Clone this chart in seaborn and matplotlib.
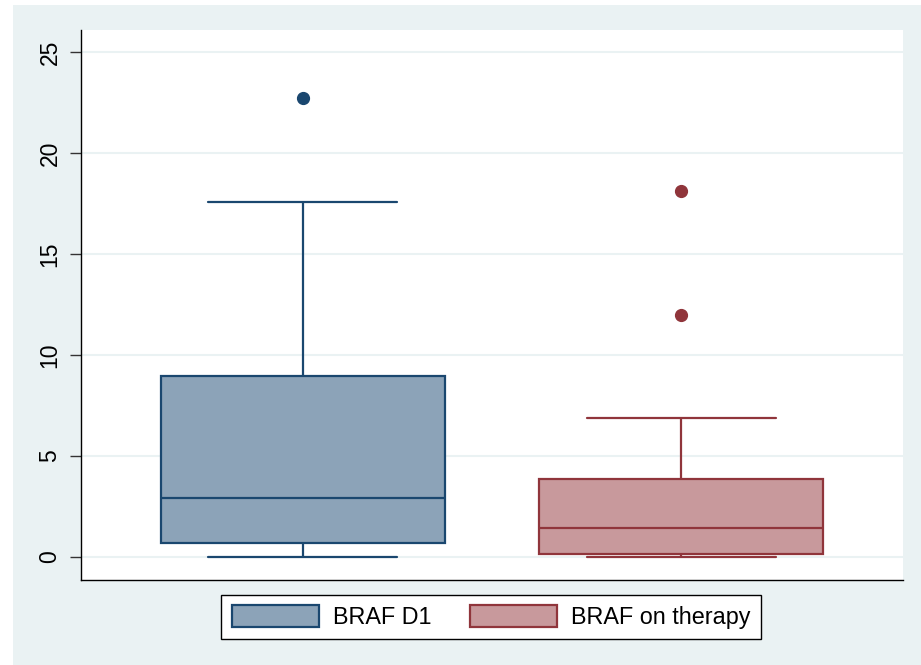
import numpy as np
import pandas as pd
import matplotlib.pyplot as plt
import seaborn as sns
from matplotlib.patches import Patch, Rectangle

# groups and values (filler points sit between the quartiles)
groups = ['BRAF D1', 'BRAF on therapy']
braf_d1 = [0.0, 0.3, 0.5, 0.71, 1.5, 2.2, 2.94, 4.5, 6.0, 8.96, 12.0, 17.57, 22.72]
braf_on = [0.0, 0.05, 0.1, 0.15, 0.6, 1.0, 1.45, 2.5, 3.2, 3.86, 6.9, 11.98, 18.12]
yticks = [0, 5, 10, 15, 20, 25]

fills = ['#8CA3B8', '#C8999C']
edges = ['#1A476F', '#90353B']
bg = '#EAF2F3'

df = pd.DataFrame({
    'group': [groups[0]] * len(braf_d1) + [groups[1]] * len(braf_on),
    'value': braf_d1 + braf_on,
})

sns.set_style('white')
plt.rcParams['font.family'] = ['Liberation Sans', 'DejaVu Sans']
plt.rcParams['text.color'] = 'black'
plt.rcParams['ytick.color'] = 'black'
plt.rcParams['ytick.labelcolor'] = 'black'

fig = plt.figure(figsize=(9.21, 6.65), dpi=100, facecolor='white')
# Stata-like light background, with a thin white strip at top/left
fig.patches.append(Rectangle((13 / 921, 0), 1 - 13 / 921, 1 - 5 / 665,
                             transform=fig.transFigure, facecolor=bg,
                             edgecolor='none', zorder=-10))
ax = fig.add_axes([81 / 921, 1 - 580 / 665, (903 - 81) / 921, (580 - 30) / 665])
ax.set_facecolor('white')

for g, fc, ec in zip(groups, fills, edges):
    sns.boxplot(data=df[df['group'] == g], x='group', y='value', order=groups,
                color=fc, linecolor=ec, saturation=1, width=0.75, whis=1.5,
                linewidth=1.6, capwidths=0.5,
                flierprops=dict(marker='o', markerfacecolor=ec,
                                markeredgecolor=ec, markersize=8.5),
                ax=ax)

ax.set_xlim(-0.587, 1.587)
ax.set_ylim(-1.14, 26.09)
ax.set_yticks(yticks)
ax.set_yticklabels([str(t) for t in yticks], rotation=90, va='center', fontsize=16.5)
ax.set_xticks([])
ax.set_xlabel('')
ax.set_ylabel('')
ax.yaxis.grid(True, color=bg, linewidth=1.5)
ax.set_axisbelow(True)
ax.tick_params(axis='y', direction='out', length=8, width=1, color='#333333',
               left=True, pad=6)
for s in ['top', 'right']:
    ax.spines[s].set_visible(False)
for s in ['left', 'bottom']:
    ax.spines[s].set_color('black')
    ax.spines[s].set_linewidth(1)

handles = [Patch(facecolor=fc, edgecolor=ec, linewidth=1.6) for fc, ec in zip(fills, edges)]
leg = fig.legend(handles, groups, loc='center', ncol=2,
                 bbox_to_anchor=(491 / 921, 1 - 617 / 665),
                 fontsize=16.8, frameon=True, fancybox=False, framealpha=1,
                 edgecolor='black', handlelength=3.75, handleheight=1.05,
                 handletextpad=0.57, columnspacing=1.65, borderpad=0.45)
leg.get_frame().set_linewidth(1)

fig.savefig('out.png', dpi=100, facecolor=fig.get_facecolor())
